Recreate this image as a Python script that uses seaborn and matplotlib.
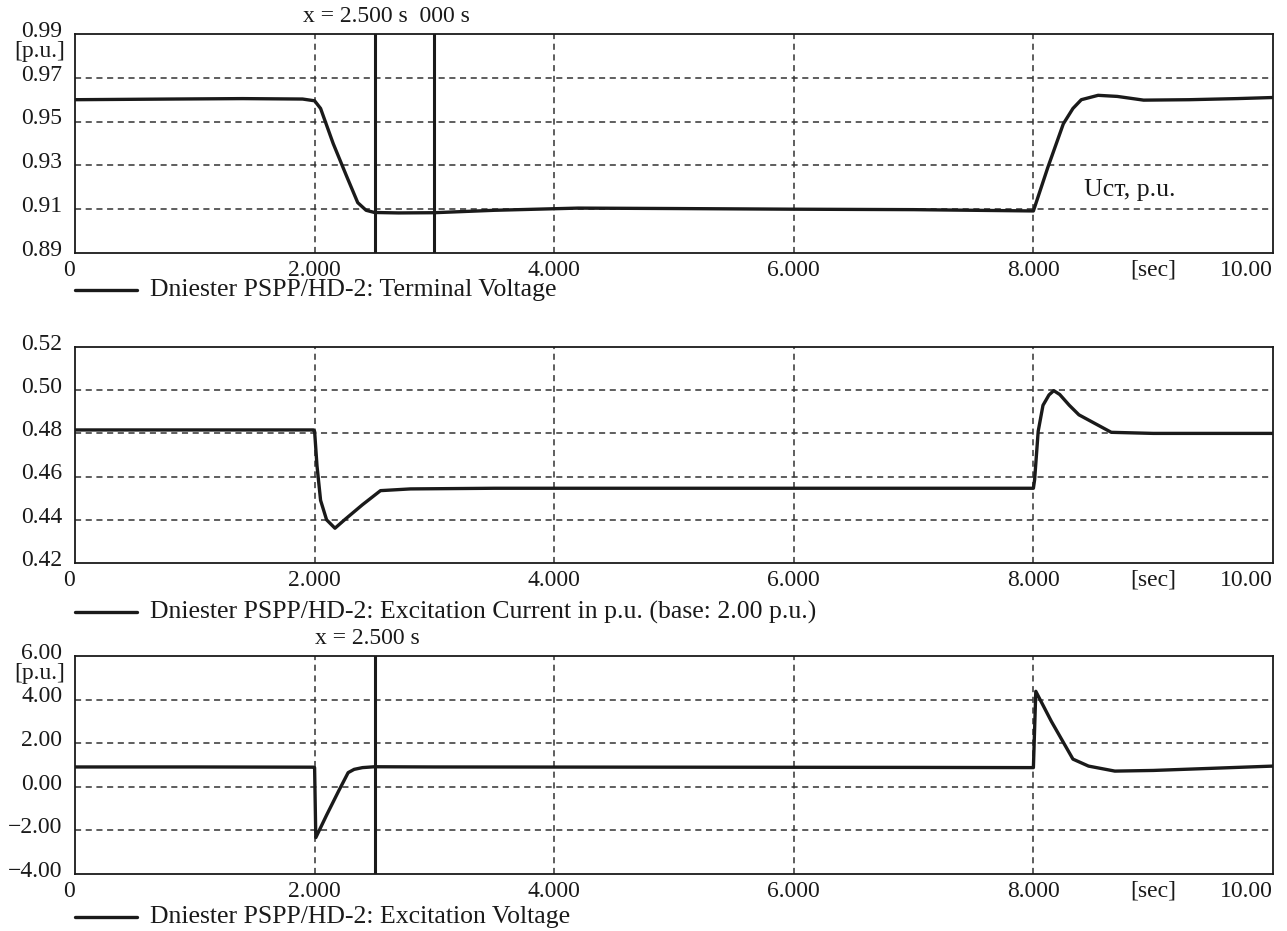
import numpy as np
import pandas as pd
import matplotlib
matplotlib.use("Agg")
import matplotlib.pyplot as plt
import matplotlib.transforms as mtrans
import seaborn as sns

# --- data ---
t_term = [0.0, 0.8, 1.4, 1.9, 2.0, 2.05, 2.155, 2.27, 2.36, 2.43, 2.5, 2.7, 3.0, 3.5, 4.2,
          5.0, 6.0, 7.0, 8.0, 8.12, 8.25, 8.33, 8.4, 8.54, 8.7, 8.92, 9.3, 9.7, 10.0]
u_term = [0.9600, 0.9603, 0.9605, 0.9603, 0.9595, 0.9560, 0.9400, 0.9247, 0.9130, 0.9095, 0.9085,
          0.9083, 0.9084, 0.9095, 0.9105, 0.9103, 0.9100, 0.9098, 0.9092, 0.9290, 0.9490, 0.9560,
          0.9600, 0.9620, 0.9615, 0.9598, 0.9600, 0.9605, 0.9610]

t_iexc = [0.0, 1.0, 1.99, 2.0, 2.02, 2.05, 2.1, 2.17, 2.25, 2.4, 2.55, 2.8, 3.5, 5.0, 7.0,
          8.0, 8.01, 8.04, 8.08, 8.13, 8.17, 8.22, 8.3, 8.38, 8.5, 8.65, 9.0, 10.0]
i_exc = [0.4816, 0.4816, 0.4816, 0.4810, 0.4650, 0.4490, 0.4400, 0.4361, 0.4400, 0.4470, 0.4535,
         0.4543, 0.4546, 0.4546, 0.4546, 0.4546, 0.4585, 0.4810, 0.4930, 0.4978, 0.4998, 0.4980,
         0.4930, 0.4886, 0.4850, 0.4805, 0.4800, 0.4800]

t_uexc = [0.0, 1.0, 1.99, 2.0, 2.01, 2.1, 2.2, 2.28, 2.33, 2.4, 2.5, 3.0, 5.0, 7.0, 7.99,
          8.0, 8.02, 8.15, 8.33, 8.46, 8.68, 9.0, 9.5, 10.0]
u_exc = [0.91, 0.91, 0.90, 0.88, -2.33, -1.30, -0.20, 0.65, 0.80, 0.88, 0.92, 0.91, 0.90,
         0.89, 0.88, 0.88, 4.38, 3.00, 1.27, 0.95, 0.72, 0.75, 0.85, 0.95]

x_ticks = [0, 2, 4, 6, 8, 9, 10]
x_labels = ["0", "2.000", "4.000", "6.000", "8.000", "[sec]", "10.00"]

panels = [
    dict(t=t_term, y=u_term, ylim=(0.89, 0.99), yticks=[0.89, 0.91, 0.93, 0.95, 0.97, 0.99],
         unit_y=0.92, cursors=[2.5, 3.0], cursor_x=1.9, cursor_text="x = 2.500 s  000 s",
         legend="Dniester PSPP/HD-2: Terminal Voltage"),
    dict(t=t_iexc, y=i_exc, ylim=(0.42, 0.52), yticks=[0.42, 0.44, 0.46, 0.48, 0.50, 0.52],
         unit_y=None, cursors=[], cursor_x=None, cursor_text=None,
         legend="Dniester PSPP/HD-2: Excitation Current in p.u. (base: 2.00 p.u.)"),
    dict(t=t_uexc, y=u_exc, ylim=(-4, 6), yticks=[-4, -2, 0, 2, 4, 6],
         unit_y=0.92, cursors=[2.5], cursor_x=2.0, cursor_text="x = 2.500 s",
         legend="Dniester PSPP/HD-2: Excitation Voltage"),
]

sns.set_style("white")
plt.rcParams["font.family"] = ["Liberation Serif", "DejaVu Serif"]

W, H = 1287, 931
fig = plt.figure(figsize=(W / 100, H / 100), dpi=100)

# axes boxes in pixels: (left, top, right, bottom)
boxes = [(75, 34, 1273, 253), (75, 347, 1273, 563), (75, 656, 1273, 874)]
legend_y = [290, 612, 917]
ink = "#1a1a1a"
fs_tick = 17
fs_text = 18.5

for p, (l, t, r, b), ly in zip(panels, boxes, legend_y):
    ax = fig.add_axes([l / W, 1 - b / H, (r - l) / W, (b - t) / H])
    df = pd.DataFrame({"t": p["t"], "v": p["y"]})
    sns.lineplot(data=df, x="t", y="v", ax=ax, color=ink, lw=2.4,
                 estimator=None, sort=False)
    ax.set_xlim(0, 10.0)
    ax.set_ylim(*p["ylim"])
    ax.set_xlabel("")
    ax.set_ylabel("")

    # dashed grid on the inner ticks only
    for gx in [2, 4, 6, 8]:
        ax.axvline(gx, color="#333333", lw=1.1, ls=(0, (4, 3)), zorder=0)
    for gy in p["yticks"][1:-1]:
        ax.axhline(gy, color="#333333", lw=1.1, ls=(0, (4, 3)), zorder=0)

    ax.set_xticks(x_ticks)
    ax.set_xticklabels(x_labels)
    xl = ax.get_xticklabels()
    xl[0].set_ha("right")
    xl[-1].set_ha("right")
    ax.set_yticks(p["yticks"])
    ax.set_yticklabels(["{:.2f}".format(v).replace("-", "\u2212") for v in p["yticks"]])
    ax.tick_params(length=0, pad=5, labelsize=fs_tick, colors=ink)
    ax.tick_params(axis="y", pad=9)
    off = mtrans.ScaledTranslation(0, 2 / 72, fig.dpi_scale_trans)
    for lab in ax.get_yticklabels():
        lab.set_va("center")
        lab.set_transform(lab.get_transform() + off)

    for s in ax.spines.values():
        s.set_color(ink)
        s.set_linewidth(1.3)

    if p["unit_y"] is not None:
        ax.text(-10 / (r - l), p["unit_y"], "[p.u.]", transform=ax.transAxes,
                ha="right", va="center", fontsize=fs_tick, color=ink)

    for cx in p["cursors"]:
        ax.axvline(cx, color=ink, lw=2.2, zorder=3)
    if p["cursor_text"]:
        ax.text(p["cursor_x"], 1.03, p["cursor_text"], transform=ax.get_xaxis_transform(),
                ha="left", va="bottom", fontsize=fs_tick, color=ink)

    # legend row under each panel
    yf = 1 - ly / H
    fig.add_artist(plt.Line2D([75 / W, 137 / W], [yf, yf], color=ink, lw=2.4))
    fig.text(150 / W, yf, p["legend"], ha="left", va="center", fontsize=fs_text, color=ink)

    if p["cursor_text"] == "x = 2.500 s  000 s":
        ax.text(8.42, 0.9188, "U\u0441\u0442, p.u.", ha="left", va="center",
                fontsize=fs_text, color=ink)

fig.savefig("out.png", dpi=100)
